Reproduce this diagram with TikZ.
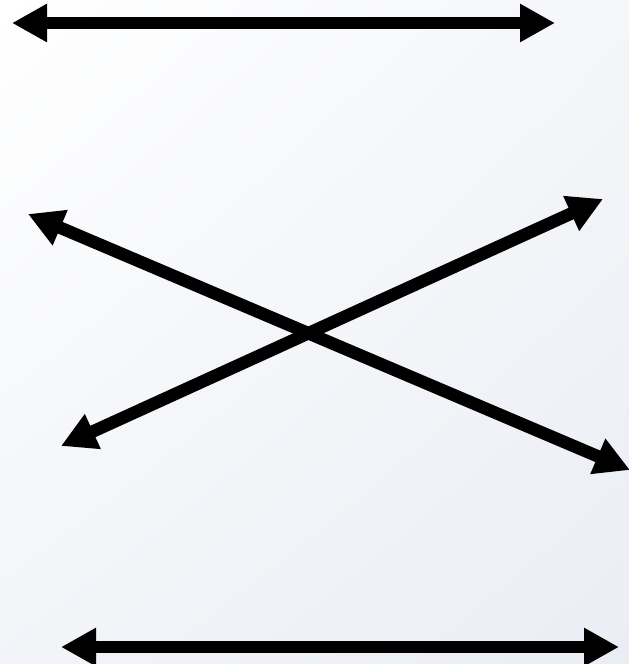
\documentclass[tikz,border=0pt]{standalone}
\usepackage{tikz}
\usetikzlibrary{arrows.meta,shadings}
\definecolor{skycol}{RGB}{234,237,244}
\definecolor{inkcol}{RGB}{0,0,0}

\begin{document}
\begin{tikzpicture}[
  x=1pt, y=-1pt,
  twoway/.style={{Triangle[length=35pt, width=36pt]}-{Triangle[length=35pt, width=36pt]},
                 line width=12.5pt, draw=inkcol},
]

% ---------- sky background ----------
\shade[upper left=white, upper right=white!50!skycol,
       lower left=white!40!skycol, lower right=skycol] (0,0) rectangle (629,664);
\useasboundingbox (0,0) rectangle (629,664);

% ---------- end points ----------
\coordinate (topW) at (12,23);
\coordinate (topE) at (555,23);
\coordinate (crossNW) at (28,214);
\coordinate (crossSE) at (630,470);
\coordinate (crossSW) at (61,446);
\coordinate (crossNE) at (603,199);
\coordinate (botW) at (61,647);
\coordinate (botE) at (619,647);

% ---------- arrows ----------
\draw[twoway] (topW) -- (topE);
\draw[twoway] (crossNW) -- (crossSE);
\draw[twoway] (crossSW) -- (crossNE);
\draw[twoway] (botW) -- (botE);

\end{tikzpicture}
\end{document}
